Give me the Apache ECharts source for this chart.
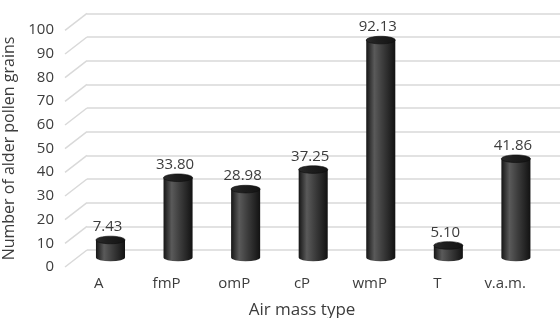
<!DOCTYPE html>
<html>
<head>
<meta charset="utf-8">
<script src="https://cdn.jsdelivr.net/npm/echarts@6/dist/echarts.min.js"></script>
<style>
  html, body { margin: 0; padding: 0; background: #fff; }
  #chart { width: 560px; height: 318px; }
</style>
</head>
<body>
<div id="chart"></div>
<script>
const categories = ["A", "fmP", "omP", "cP", "wmP", "T", "v.a.m."];
const grains = [7.43, 33.80, 28.98, 37.25, 92.13, 5.10, 41.86];
const yTicks = [0, 10, 20, 30, 40, 50, 60, 70, 80, 90, 100];

const textColor = "#3c3c3c";
const gridColor = "#d9d9d9";
const font = "Open Sans";

const chart = echarts.init(document.getElementById("chart"));

// cylinder shading, dark edges and a soft highlight on the left third
const bodyFill = new echarts.graphic.LinearGradient(0, 0, 1, 0, [
  { offset: 0, color: "#161616" },
  { offset: 0.28, color: "#5a5a5a" },
  { offset: 0.55, color: "#3e3e3e" },
  { offset: 1, color: "#121212" },
]);
const topFill = new echarts.graphic.LinearGradient(0, 0, 1, 0, [
  { offset: 0, color: "#2a2a2a" },
  { offset: 0.4, color: "#1e1e1e" },
  { offset: 1, color: "#141414" },
]);

function renderCylinder(params, api) {
  const idx = api.value(0);
  const val = api.value(1);
  const top = api.coord([idx, val]);
  const base = api.coord([idx, 0]);
  const w = api.size([1, 0])[0] * 0.43;
  const rx = w / 2;
  const ry = 3.8;
  const cx = top[0];
  return {
    type: "group",
    children: [
      {
        type: "path",
        shape: {
          pathData:
            "M" + (cx - rx) + " " + top[1] +
            " L" + (cx - rx) + " " + base[1] +
            " A" + rx + " " + ry + " 0 0 0 " + (cx + rx) + " " + base[1] +
            " L" + (cx + rx) + " " + top[1] + " Z",
        },
        style: { fill: bodyFill },
      },
      {
        type: "ellipse",
        shape: { cx: cx, cy: top[1], rx: rx, ry: ry },
        style: { fill: topFill, stroke: "#0e0e0e", lineWidth: 0.6 },
      },
      {
        type: "text",
        x: cx - 3,
        y: top[1] - 13,
        style: {
          text: val.toFixed(2),
          fill: textColor,
          font: "15px '" + font + "'",
          align: "center",
          verticalAlign: "middle",
        },
      },
    ],
  };
}

// short diagonal floor strokes joining front labels to the back wall lines
function renderStub(params, api) {
  const sys = params.coordSys;
  const p = api.coord([0, api.value(0)]);
  return {
    type: "line",
    shape: { x1: sys.x - 22, y1: p[1] + 17, x2: sys.x, y2: p[1] },
    style: { stroke: gridColor, lineWidth: 1.5 },
  };
}

const option = {
  animation: false,
  textStyle: { fontFamily: font, color: textColor },
  grid: [
    // back wall
    { left: 87, right: 0, top: 13.3, bottom: 68, outerBoundsMode: "none" },
    // front plane (labels)
    { left: 65, right: 21, top: 30, bottom: 51, outerBoundsMode: "none" },
    // mid depth (bars)
    { left: 76.7, right: 10.3, top: 21.5, bottom: 60.5, outerBoundsMode: "none" },
  ],
  xAxis: [
    { gridIndex: 0, type: "category", data: categories, show: false },
    {
      gridIndex: 1,
      type: "category",
      data: categories,
      axisLine: { show: false },
      axisTick: { show: false },
      axisLabel: { color: textColor, fontSize: 15, margin: 9, fontFamily: font },
      name: "Air mass type",
      nameLocation: "middle",
      nameGap: 35,
      nameTextStyle: { color: textColor, fontSize: 17, fontFamily: font },
    },
    { gridIndex: 2, type: "category", data: categories, show: false },
  ],
  yAxis: [
    {
      gridIndex: 0,
      type: "value",
      min: 0,
      max: 100,
      interval: 10,
      axisLabel: { show: false },
      axisLine: { show: false },
      axisTick: { show: false },
      splitLine: { lineStyle: { color: gridColor, width: 1.5 } },
    },
    {
      gridIndex: 1,
      type: "value",
      min: 0,
      max: 100,
      interval: 10,
      axisLine: { show: false },
      axisTick: { show: false },
      splitLine: { show: false },
      axisLabel: { color: textColor, fontSize: 15, margin: 11, fontFamily: font },
      name: "Number of alder pollen grains",
      nameLocation: "middle",
      nameRotate: 90,
      nameGap: 38,
      nameTextStyle: { color: textColor, fontSize: 16, fontFamily: font },
    },
    {
      gridIndex: 2,
      type: "value",
      min: 0,
      max: 100,
      interval: 10,
      show: false,
      splitLine: { show: false },
    },
  ],
  series: [
    {
      type: "custom",
      xAxisIndex: 0,
      yAxisIndex: 0,
      renderItem: renderStub,
      data: yTicks.map((v) => [v]),
      encode: { y: 0 },
      silent: true,
    },
    {
      type: "custom",
      xAxisIndex: 2,
      yAxisIndex: 2,
      renderItem: renderCylinder,
      data: grains.map((v, i) => [i, v]),
      encode: { x: 0, y: 1 },
      z: 5,
    },
  ],
};

chart.setOption(option);
</script>
</body>
</html>
